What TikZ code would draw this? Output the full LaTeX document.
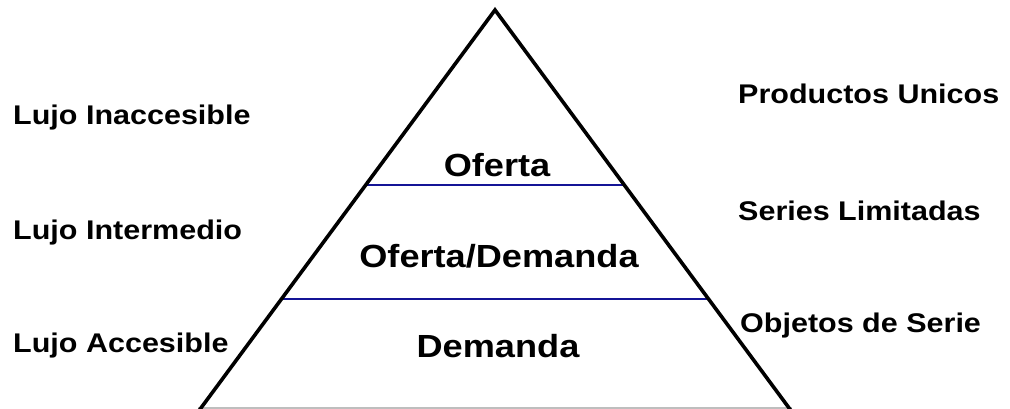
\documentclass[tikz,border=0pt]{standalone}
\usepackage{fontspec}
\usetikzlibrary{calc}
\newfontfamily\lblfont[FakeStretch=1.13]{Liberation Sans}
\definecolor{lineblue}{RGB}{20,20,150}
\definecolor{basegray}{RGB}{190,190,190}
\tikzset{
  side/.style={line width=3.6pt, black},
  levelline/.style={line width=1.6pt, lineblue},
  sidelabel/.style={anchor=base west, inner sep=0pt, font=\lblfont\bfseries\fontsize{27}{27}\selectfont},
  midlabel/.style={anchor=base, inner sep=0pt, font=\lblfont\bfseries\fontsize{32}{32}\selectfont}
}
\begin{document}
\begin{tikzpicture}[x=1pt,y=1pt]
\useasboundingbox (0,0) rectangle (1010,409);
\coordinate (apex) at (495,399);
\coordinate (bl) at (198,-3);
\coordinate (br) at (792,-3);
\coordinate (l1) at ($(apex)!0.436!(bl)$);
\coordinate (r1) at ($(apex)!0.436!(br)$);
\coordinate (l2) at ($(apex)!0.719!(bl)$);
\coordinate (r2) at ($(apex)!0.719!(br)$);
\coordinate (gl) at (198,1);
\coordinate (gr) at (792,1);
\draw[basegray, line width=1.2pt] (gl) -- (gr);
\draw[levelline] (l1) -- (r1);
\draw[levelline] (l2) -- (r2);
\draw[side, line join=miter] (bl) -- (apex) -- (br);
% center labels
\node[midlabel] (oferta) at (497,232) {Oferta};
\node[midlabel] (ofdem) at (499,141) {Oferta/Demanda};
\node[midlabel] (dem) at (498,51) {Demanda};
% left labels
\node[sidelabel] (li) at (13,284) {Lujo Inaccesible};
\node[sidelabel] (lm) at (13,169) {Lujo Intermedio};
\node[sidelabel] (la) at (13,56) {Lujo Accesible};
% right labels
\node[sidelabel] (pu) at (738,305) {Productos Unicos};
\node[sidelabel] (sl) at (738,188) {Series Limitadas};
\node[sidelabel] (os) at (740,76) {Objetos de Serie};
\end{tikzpicture}
\end{document}
